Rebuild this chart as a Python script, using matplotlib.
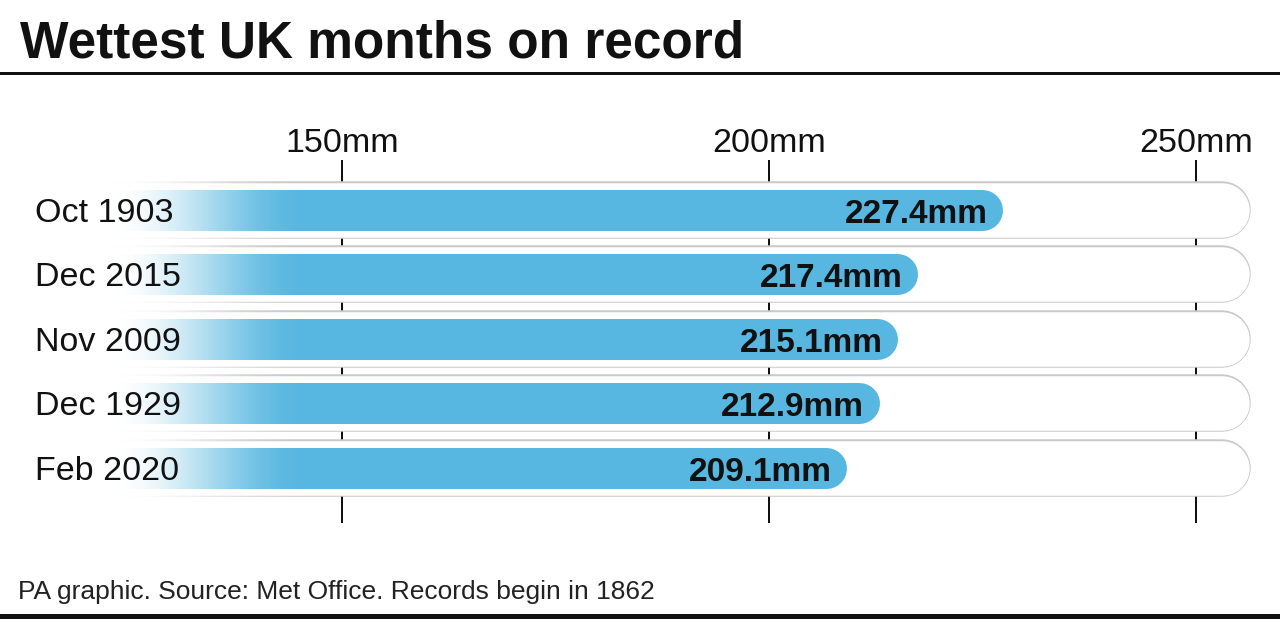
import numpy as np
import matplotlib
matplotlib.use("Agg")
import matplotlib.pyplot as plt
from matplotlib.transforms import offset_copy, blended_transform_factory

# ---- data ----
months = ["Oct 1903", "Dec 2015", "Nov 2009", "Dec 1929", "Feb 2020"]
rainfall_mm = [227.4, 217.4, 215.1, 212.9, 209.1]
tick_values = [150, 200, 250]
tick_labels = ["150mm", "200mm", "250mm"]
title = "Wettest UK months on record"
footer = "PA graphic. Source: Met Office. Records begin in 1862"

# ---- layout constants (pixels) ----
W, H = 1280, 629
PX_PER_MM = 8.54
X150 = 342
ROW0 = 210
PITCH = 64.5
TRACK_END_MM = 256.3
BLUE = "#58b7e0"
GREY = "#c9c9c9"
FONT = "Liberation Sans"

plt.rcParams['font.family'] = [FONT, 'DejaVu Sans']

fig = plt.figure(figsize=(W / 100, H / 100), dpi=100)
ax = fig.add_axes([0, 0, 1, 1])
ax.axis('off')

def rows(py):
    return (py - ROW0) / PITCH

def mm_at(px):
    return 150 + (px - X150) / PX_PER_MM

xlim = (mm_at(0), mm_at(W))
ylim = (rows(H), rows(0))

def pt(px):
    return px * 72 / 100

y_idx = np.arange(len(months))
x_left = xlim[0] - 5

# tick lines (behind tracks)
ax.vlines(tick_values, rows(160), rows(523), color="#111111", lw=pt(2), zorder=1)

# background tracks (outlined pills with round caps)
track_tr = offset_copy(ax.transData, fig=fig, x=-28, y=0, units='dots')
for i in y_idx:
    ax.plot([x_left, TRACK_END_MM], [i, i], color=GREY, lw=pt(57.5),
            solid_capstyle='round', transform=track_tr, zorder=2)
    ax.plot([x_left, TRACK_END_MM], [i, i], color="white", lw=pt(54.5),
            solid_capstyle='round', transform=track_tr, zorder=3)

# blue bars (round right end)
bar_tr = offset_copy(ax.transData, fig=fig, x=-20.5, y=0, units='dots')
for i, v in zip(y_idx, rainfall_mm):
    ax.plot([x_left, v], [i, i], color=BLUE, lw=pt(41),
            solid_capstyle='round', transform=bar_tr, zorder=4)

# left fade overlay
n = 400
px = np.linspace(0, 305, n)
t = np.clip((px - 115) / (305 - 115), 0, 1)
alpha = 1 - (t * t * (3 - 2 * t))
img = np.ones((1, n, 4))
img[0, :, 3] = alpha
ax.imshow(img, extent=(mm_at(0), mm_at(305), rows(520), rows(170)),
          aspect='auto', interpolation='bilinear', zorder=5)

ax.set_xlim(*xlim)
ax.set_ylim(*ylim)

# value labels
val_tr = offset_copy(ax.transData, fig=fig, x=-15, y=-13, units='dots')
for i, v in zip(y_idx, rainfall_mm):
    ax.text(v, i, f"{v:.1f}mm", ha='right', va='baseline', fontsize=24,
            fontweight='bold', color="#111111", transform=val_tr, zorder=6)

# category labels
cat_tr = offset_copy(blended_transform_factory(fig.transFigure, ax.transData),
                     fig=fig, x=0, y=-12, units='dots')
for i, m in zip(y_idx, months):
    ax.text(35 / W, i, m, ha='left', va='baseline', fontsize=24.5,
            color="#111111", transform=cat_tr, zorder=6)

# tick labels
for tv, tl in zip(tick_values, tick_labels):
    ax.text(tv, rows(152), tl, ha='center', va='baseline', fontsize=24.5,
            color="#111111", zorder=6)

# rules
ax.axhline(rows(73), color="#111111", lw=pt(3), zorder=6)
ax.axhline(rows(615.5), color="#111111", lw=pt(5), zorder=6)

# title and footer
fig.text(20 / W, 1 - 58 / H, title, ha='left', va='baseline', fontsize=37,
         fontweight='bold', color="#111111")
fig.text(18 / W, 1 - 599 / H, footer, ha='left', va='baseline', fontsize=19,
         color="#222222")

fig.savefig("out.png", dpi=100)
